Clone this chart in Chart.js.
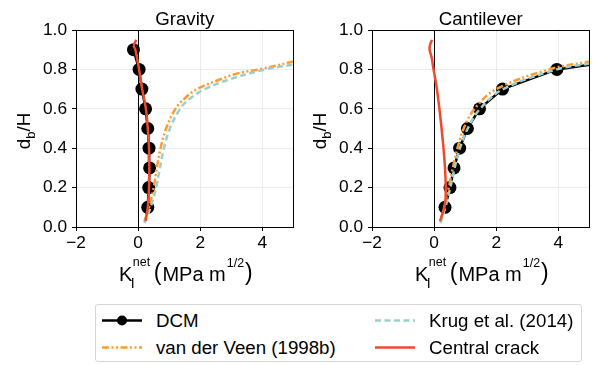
<!DOCTYPE html>
<html>
<head>
<meta charset="utf-8">
<script src="https://cdn.jsdelivr.net/npm/chart.js@4.4.1/dist/chart.umd.min.js"></script>
<style>
  body { margin: 0; background: #fff; width: 596px; height: 365px; position: relative; overflow: hidden; font-family: 'Liberation Sans', Arial, sans-serif; }
  canvas { position: absolute; top: 0; }
  #legend { position: absolute; left: 95px; top: 304px; width: 487px; height: 58px; border: 1px solid #d6d6d6; border-radius: 3px; box-sizing: border-box; }
  .item { position: absolute; font-size: 18.7px; line-height: 21px; color: #000; white-space: nowrap; }
  .item svg { position: absolute; top: 0; }
</style>
</head>
<body>
<canvas id="gravity" width="300" height="300" style="left:0px"></canvas>
<canvas id="cantilever" width="300" height="300" style="left:296px"></canvas>
<div id="legend"></div>

<script>
// depth ratio d_b/H and K_I^net (MPa m^1/2)
const dcmDepth = [0.1, 0.2, 0.3, 0.4, 0.5, 0.6, 0.7, 0.8, 0.9];
const gravityDcm = [0.31, 0.34, 0.37, 0.35, 0.31, 0.24, 0.12, 0.03, -0.15];
const cantileverDcm = [0.35, 0.51, 0.64, 0.82, 1.07, 1.46, 2.2, 3.95, 8.5];

const gravityVdvDepth = [0.03, 0.1, 0.2, 0.3, 0.4, 0.5, 0.6, 0.65, 0.7, 0.75, 0.78, 0.8, 0.84];
const gravityVdv = [0.2, 0.35, 0.5, 0.6, 0.72, 0.9, 1.2, 1.48, 1.9, 2.65, 3.2, 3.9, 5.0];
const gravityKrugDepth = [0.02, 0.1, 0.2, 0.3, 0.4, 0.5, 0.6, 0.65, 0.7, 0.75, 0.8, 0.825];
const gravityKrug = [0.2, 0.4, 0.58, 0.7, 0.83, 1.02, 1.35, 1.65, 2.15, 2.95, 4.1, 5.0];
const gravityCrackDepth = [0.03, 0.1, 0.2, 0.3, 0.4, 0.5, 0.6, 0.7, 0.8, 0.9, 0.92, 0.95];
const gravityCrack = [0.24, 0.31, 0.35, 0.36, 0.35, 0.31, 0.25, 0.13, 0.03, -0.09, -0.14, -0.06];

const cantVdvDepth = [0.03, 0.1, 0.2, 0.3, 0.4, 0.5, 0.6, 0.7, 0.8, 0.84];
const cantVdv = [0.2, 0.32, 0.47, 0.6, 0.75, 0.95, 1.3, 2.0, 3.7, 5.0];
const cantKrugDepth = [0.02, 0.1, 0.2, 0.3, 0.4, 0.5, 0.6, 0.7, 0.8, 0.83];
const cantKrug = [0.2, 0.36, 0.52, 0.66, 0.83, 1.08, 1.48, 2.22, 3.95, 5.0];
const cantCrackDepth = [0.03, 0.085, 0.15, 0.3, 0.5, 0.7, 0.8, 0.86, 0.905, 0.93, 0.95];
const cantCrack = [0.19, 0.3, 0.37, 0.35, 0.24, 0.09, -0.02, -0.08, -0.15, -0.12, -0.07];

const seriesNames = ["DCM", "van der Veen (1998b)", "Krug et al. (2014)", "Central crack"];
const xTicks = [-2, 0, 2, 4];
const yTicks = [0, 0.2, 0.4, 0.6, 0.8, 1.0];

const FONT = "'Liberation Sans', Arial, sans-serif";
const ORANGE = "#ff9a2e";
const TEAL = "#9dcfc7";
const RED = "#ee4a2c";
const DASHDOTDOT = [7, 2.5, 2, 2.5, 2, 2.5];

Chart.defaults.font.family = FONT;
Chart.defaults.color = "#000";

function pts(xs, ys) {
  return xs.map((x, i) => ({ x: x, y: ys[i] }));
}

const decorPlugin = {
  id: "decor",
  beforeDatasetsDraw(chart) {
    const { ctx, chartArea: a, scales } = chart;
    const x0 = Math.round(scales.x.getPixelForValue(0)) + 0.5;
    ctx.save();
    ctx.strokeStyle = "#000";
    ctx.lineWidth = 1;
    ctx.beginPath();
    ctx.moveTo(x0, a.top);
    ctx.lineTo(x0, a.bottom);
    ctx.stroke();
    ctx.restore();
  },
  afterDraw(chart, args, opts) {
    const { ctx, chartArea: a } = chart;
    ctx.save();
    // frame
    ctx.strokeStyle = "#000";
    ctx.lineWidth = 1;
    ctx.strokeRect(Math.round(a.left) + 0.5, Math.round(a.top) + 0.5,
      Math.round(a.right - a.left) - 1, Math.round(a.bottom - a.top));
    ctx.fillStyle = "#000";
    ctx.textBaseline = "alphabetic";
    // title
    ctx.font = "18.7px " + FONT;
    ctx.textAlign = "center";
    ctx.fillText(opts.title, (a.left + a.right) / 2, 25);
    // x label: K_I^net (MPa m^1/2)
    ctx.textAlign = "left";
    let x = a.left + 43;
    const base = 280.5;
    ctx.font = "20px " + FONT;
    ctx.fillText("K", x, base);
    const kw = ctx.measureText("K").width;
    ctx.font = "12.5px " + FONT;
    ctx.fillText("net", x + kw + 0.5, base - 15);
    ctx.font = "14px " + FONT;
    ctx.fillText("I", x + kw - 1.5, base + 7);
    ctx.font = "12.5px " + FONT;
    x += kw + ctx.measureText("net").width + 4;
    ctx.font = "23px " + FONT;
    ctx.fillText("(", x, base - 1);
    x += ctx.measureText("(").width + 1;
    ctx.font = "20px " + FONT;
    ctx.fillText("MPa m", x, base);
    x += ctx.measureText("MPa m").width + 1;
    ctx.font = "12.5px " + FONT;
    ctx.fillText("1/2", x, base - 13.5);
    x += ctx.measureText("1/2").width + 1;
    ctx.font = "23px " + FONT;
    ctx.fillText(")", x, base - 1);
    // y label: d_b/H
    ctx.translate(30, 131);
    ctx.rotate(-Math.PI / 2);
    ctx.font = "18.7px " + FONT;
    const dw = ctx.measureText("d").width;
    const hw = ctx.measureText("/H").width;
    ctx.font = "13px " + FONT;
    const bw = ctx.measureText("b").width;
    let yx = -(dw + bw + hw) / 2;
    ctx.font = "18.7px " + FONT;
    ctx.fillText("d", yx, 0);
    ctx.font = "13px " + FONT;
    ctx.fillText("b", yx + dw, 5);
    ctx.font = "18.7px " + FONT;
    ctx.fillText("/H", yx + dw + bw, 0);
    ctx.restore();
  }
};

function makeChart(id, title, dcm, vdvD, vdv, krugD, krug, crackD, crack) {
  return new Chart(document.getElementById(id), {
    type: "line",
    data: {
      datasets: [
        {
          label: seriesNames[0], data: pts(dcm, dcmDepth), order: 4,
          borderColor: "#000", backgroundColor: "#000", borderWidth: 2.5,
          pointRadius: 6.5, pointHoverRadius: 6.5, pointBorderWidth: 0, tension: 0
        },
        {
          label: seriesNames[1], data: pts(vdv, vdvD), order: 3,
          borderColor: ORANGE, borderWidth: 2.5, borderDash: DASHDOTDOT,
          pointRadius: 0, tension: 0.35
        },
        {
          label: seriesNames[2], data: pts(krug, krugD), order: 2,
          borderColor: TEAL, borderWidth: 2.5, borderDash: [6, 3.5],
          pointRadius: 0, tension: 0.35
        },
        {
          label: seriesNames[3], data: pts(crack, crackD), order: 1,
          borderColor: RED, borderWidth: 2.5,
          pointRadius: 0, tension: 0.35
        }
      ]
    },
    options: {
      responsive: false,
      animation: false,
      devicePixelRatio: 1,
      layout: { padding: { top: 30, right: 4, left: 0, bottom: 0 } },
      plugins: {
        legend: { display: false },
        tooltip: { enabled: false },
        decor: { title: title }
      },
      scales: {
        x: {
          type: "linear", min: -2, max: 5,
          afterBuildTicks: s => { s.ticks = xTicks.map(v => ({ value: v })); },
          afterFit: s => { s.height = 73; },
          ticks: {
            font: { size: 17.3 }, color: "#000", padding: 2, maxRotation: 0,
            callback: v => (v < 0 ? "\u2212" + Math.abs(v) : String(v))
          },
          grid: { color: "#ebebeb", lineWidth: 1, tickLength: 4, tickColor: "#000", tickWidth: 1 },
          border: { display: false }
        },
        y: {
          type: "linear", min: 0, max: 1,
          afterBuildTicks: s => { s.ticks = yTicks.map(v => ({ value: v })); },
          afterFit: s => { s.width = 76; },
          ticks: {
            font: { size: 17.3 }, color: "#000", padding: 5,
            callback: v => v.toFixed(1)
          },
          grid: { color: "#ebebeb", lineWidth: 1, tickLength: 4, tickColor: "#000", tickWidth: 1 },
          border: { display: false }
        }
      }
    },
    plugins: [decorPlugin]
  });
}

makeChart("gravity", "Gravity", gravityDcm, gravityVdvDepth, gravityVdv,
  gravityKrugDepth, gravityKrug, gravityCrackDepth, gravityCrack);
makeChart("cantilever", "Cantilever", cantileverDcm, cantVdvDepth, cantVdv,
  cantKrugDepth, cantKrug, cantCrackDepth, cantCrack);

// legend, two columns
const legend = document.getElementById("legend");
const samples = [
  '<line x1="0" y1="10.5" x2="40" y2="10.5" stroke="#000" stroke-width="2.5"/><circle cx="20" cy="10.5" r="5" fill="#000"/>',
  '<line x1="0" y1="10.5" x2="40" y2="10.5" stroke="' + ORANGE + '" stroke-width="2.5" stroke-dasharray="' + DASHDOTDOT.join(" ") + '"/>',
  '<line x1="0" y1="10.5" x2="40" y2="10.5" stroke="' + TEAL + '" stroke-width="2.5" stroke-dasharray="6 3.5"/>',
  '<line x1="0" y1="10.5" x2="40" y2="10.5" stroke="' + RED + '" stroke-width="2.5"/>'
];
const cells = [[6, 5], [6, 32], [279, 5], [279, 32]];
seriesNames.forEach((name, i) => {
  const d = document.createElement("div");
  d.className = "item";
  d.style.left = cells[i][0] + "px";
  d.style.top = cells[i][1] + "px";
  d.innerHTML = '<svg width="40" height="21" style="left:0">' + samples[i] + '</svg>' +
    '<span style="margin-left:54px">' + name + '</span>';
  legend.appendChild(d);
});
</script>
</body>
</html>
